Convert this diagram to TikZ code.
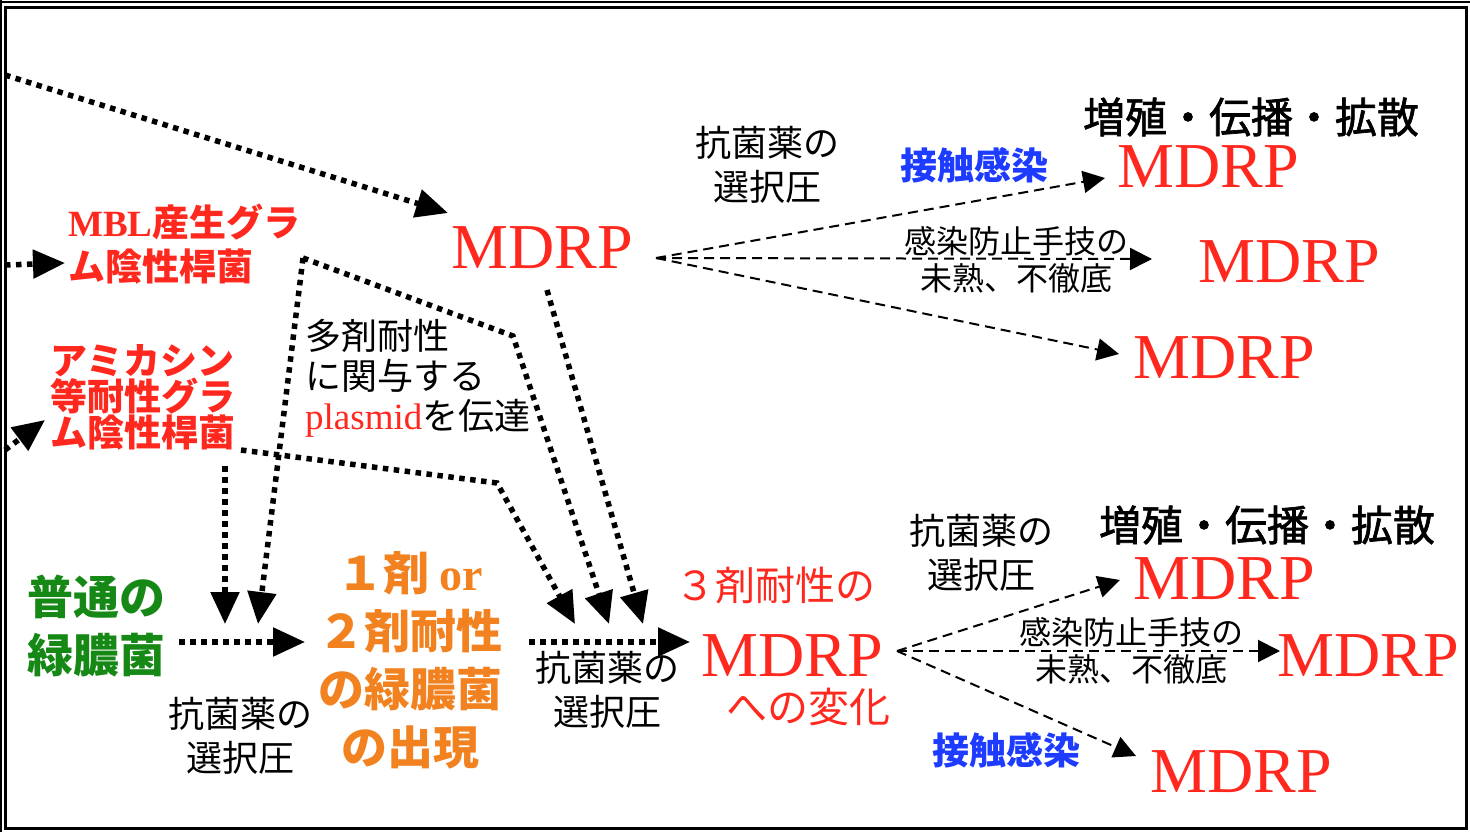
\documentclass[tikz,border=0pt]{standalone}
\usepackage{fontspec}
\setmainfont{Liberation Serif}
\newfontfamily\cjk{Noto Sans CJK JP}
\newfontfamily\cjkmed{Noto Sans CJK JP}[FakeBold=1.6]
\usetikzlibrary{arrows.meta}
\definecolor{myred}{RGB}{255,40,30}
\definecolor{myorange}{RGB}{242,130,32}
\definecolor{mygreen}{RGB}{22,136,22}
\definecolor{myblue}{RGB}{30,60,255}
\tikzset{
  dotarr/.style={line width=5.5pt, dash pattern=on 5.5pt off 5.5pt, -{Triangle[length=32pt,width=28pt]}},
  dasharr/.style={line width=2pt, dash pattern=on 10pt off 6pt, -{Triangle[length=22pt,width=22pt]}},
  mdrp/.style={text=myred, font=\fontsize{64}{64}\selectfont, inner sep=0pt},
  jp/.style={font=\cjk\fontsize{36}{44}\selectfont, align=center, inner sep=0pt},
  jpsmall/.style={font=\cjk\fontsize{32}{37}\selectfont, align=center, inner sep=0pt},
  spread/.style={font=\cjkmed\fontsize{42}{44}\selectfont, inner sep=0pt},
  contact/.style={font=\cjk\bfseries\fontsize{37}{40}\selectfont, text=myblue, inner sep=0pt},
}
\begin{document}
\begin{tikzpicture}[x=1pt,y=-1pt]
\useasboundingbox (0,0) rectangle (1470,832);
\fill[white] (0,0) rectangle (1470,832);
% frame
\draw[line width=1.5pt] (0,2) -- (1470,2);
\draw[line width=1.5pt] (1,0) -- (1,832);
\draw[line width=3pt] (5.5,7.5) rectangle (1466,828);

% MDRP nodes
\node[mdrp] (M0) at (542,248) {MDRP};
\node[mdrp] (T1) at (1208,167) {MDRP};
\node[mdrp] (T2) at (1289,262) {MDRP};
\node[mdrp] (T3) at (1224,358) {MDRP};
\node[mdrp] (B0) at (792,656) {MDRP};
\node[mdrp] (B1) at (1224,579) {MDRP};
\node[mdrp] (B2) at (1368,656) {MDRP};
\node[mdrp] (B3) at (1241,772) {MDRP};

% labels
\node[jp] (sel1) at (767,165) {抗菌薬の\\選択圧};
\node[spread] (sp1) at (1251,117) {増殖・伝播・拡散};
\node[contact] (ct1) at (974,165) {接触感染};
\node[jpsmall] (inf1) at (1016,260) {感染防止手技の\\未熟、不徹底};

\node[anchor=west, align=left, inner sep=0pt, text=myred, font=\cjk\bfseries\fontsize{37}{44}\selectfont] (MBL) at (68,244)
  {{\rmfamily\bfseries MBL}産生グラ\\ム陰性桿菌};
\node[anchor=west, align=left, inner sep=0pt, text=myred, font=\cjk\bfseries\fontsize{37}{36}\selectfont] (AMK) at (50,397)
  {アミカシン\\等耐性グラ\\ム陰性桿菌};
\node[anchor=west, align=left, inner sep=0pt, text=mygreen, font=\cjk\bfseries\fontsize{46}{58}\selectfont] (NORM) at (27,626)
  {普通の\\緑膿菌};
\node[align=center, inner sep=0pt, text=myorange, font=\cjk\bfseries\fontsize{46}{58}\selectfont] (ORG) at (410,660)
  {１剤 {\rmfamily\bfseries or}\\２剤耐性\\の緑膿菌\\の出現};
\node[anchor=west, align=left, inner sep=0pt, font=\cjk\fontsize{36}{40}\selectfont] (PLS) at (305,378)
  {多剤耐性\\に関与する\\{\rmfamily\fontsize{37}{40}\selectfont\color{myred}plasmid}を伝達};

\node[jp] (sel2) at (240,736) {抗菌薬の\\選択圧};
\node[jp] (sel3) at (607,690) {抗菌薬の\\選択圧};
\node[inner sep=0pt, text=myred, font=\cjk\fontsize{40}{44}\selectfont] (three) at (775,585) {３剤耐性の};
\node[inner sep=0pt, text=myred, font=\cjk\fontsize{41}{44}\selectfont] (chg) at (808,707) {への変化};
\node[jp] (sel4) at (981,553) {抗菌薬の\\選択圧};
\node[spread] (sp2) at (1267,525) {増殖・伝播・拡散};
\node[jpsmall] (inf2) at (1131,651) {感染防止手技の\\未熟、不徹底};
\node[contact] (ct2) at (1006,750) {接触感染};

% coordinates for connector ends
\coordinate (L1) at (5,75);
\coordinate (L2) at (5,265);
\coordinate (L3) at (5,450);
\coordinate (A1) at (448,213);
\coordinate (A2) at (65,263);
\coordinate (A3) at (45,420);
\coordinate (mblS) at (303,258);
\coordinate (mblK) at (513,336);
\coordinate (amkS) at (241,450);
\coordinate (amkK) at (497,483);
\coordinate (amkD) at (225,466);
\coordinate (m0S) at (547,290);
\coordinate (t1) at (225,624);
\coordinate (t2) at (258,624);
\coordinate (t3) at (575,624);
\coordinate (t4) at (609,624);
\coordinate (t5) at (643,624);
\coordinate (nS) at (179,642);
\coordinate (nE) at (305,642);
\coordinate (oS) at (529,642);
\coordinate (oE) at (690,642);
\coordinate (F1) at (656,258);
\coordinate (F2) at (897,651);
\coordinate (f11) at (1105,178);
\coordinate (f12) at (1152,259);
\coordinate (f13) at (1119,354);
\coordinate (f21) at (1120,580);
\coordinate (f22) at (1280,651);
\coordinate (f23) at (1136,756);

% dotted connectors
\draw[dotarr] (L1) -- (A1);
\draw[dotarr] (L2) -- (A2);
\draw[dotarr] (L3) -- (A3);
\draw[dotarr] (mblS) -- (t2);
\draw[dotarr] (mblS) -- (mblK) -- (t4);
\draw[dotarr] (amkS) -- (amkK) -- (t3);
\draw[dotarr] (amkD) -- (t1);
\draw[dotarr] (m0S) -- (t5);
\draw[dotarr] (nS) -- (nE);
\draw[dotarr] (oS) -- (oE);

% dashed fans
\draw[dasharr] (F1) -- (f11);
\draw[dasharr] (F1) -- (f12);
\draw[dasharr] (F1) -- (f13);
\draw[dasharr] (F2) -- (f21);
\draw[dasharr] (F2) -- (f22);
\draw[dasharr] (F2) -- (f23);
\end{tikzpicture}
\end{document}
